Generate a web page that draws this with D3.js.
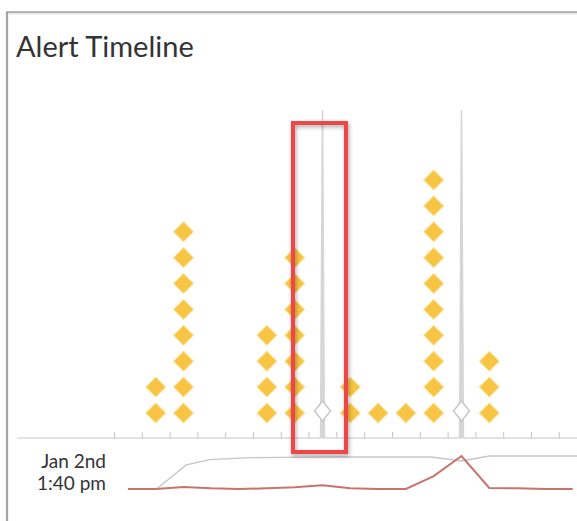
<!DOCTYPE html>
<html>
<head>
<meta charset="utf-8">
<script src="https://cdnjs.cloudflare.com/ajax/libs/d3/7.8.5/d3.min.js"></script>
<style>
  html, body { margin: 0; padding: 0; background: #fff; }
  svg { display: block; font-family: Lato, "Open Sans", sans-serif; }
</style>
</head>
<body>
<svg id="chart" width="577" height="521"></svg>
<script>
// bins are minutes after Jan 2nd 1:40 pm
var tickVals     = [0, 1, 2, 3, 4, 5, 6, 7, 8, 9, 10, 11, 12, 13, 14, 15, 16];
var binCenters   = [1.5, 2.5, 5.5, 6.5, 8.5, 9.5, 10.5, 11.5, 13.5];
var alertCounts  = [2, 8, 4, 7, 2, 1, 1, 10, 3];
var markerTimes  = [7.5, 12.5];
var rateTimes    = [0.5, 1.5, 2.5, 3.5, 4.5, 5.5, 6.5, 7.5, 8.5, 9.5, 10.5, 11.5, 12.5, 13.5, 14.5, 15.5, 16.5];
var rateValues   = [0, 0, 0.6, 0.2, 0, 0.2, 0.5, 1.1, 0.2, 0, 0, 3.9, 10, 0.3, 0.2, 0, 0];
var ctxTimes     = [1.55, 2.6, 3.45, 4.9, 7.8, 11.4, 12.5, 13.5, 16.7];
var ctxValues    = [0.15, 7.3, 8.9, 9.5, 9.7, 9.7, 8.5, 10, 10];
var labelLines   = ['Jan 2nd', '1:40 pm'];

var svg = d3.select('#chart');
var defs = svg.append('defs');
var f = defs.append('filter').attr('id', 'shadow').attr('x', '-20%').attr('y', '-5%').attr('width', '140%').attr('height', '110%');
f.append('feDropShadow').attr('dx', 1).attr('dy', 2).attr('stdDeviation', 2).attr('flood-color', '#000').attr('flood-opacity', 0.35);

var x = d3.scaleLinear().domain([0, 16]).range([114, 558.8]);
var y = d3.scaleLinear().domain([0, 9]).range([413, 180]);
var ySpark = d3.scaleLinear().domain([0, 10]).range([489, 456]);
var axisY = 438;

// frame
svg.append('rect').attr('x', 7).attr('y', 13).attr('width', 580).attr('height', 520)
  .attr('fill', 'none').attr('stroke', '#e8e8e8').attr('stroke-width', 3);
svg.append('path').attr('d', 'M7,521V12H577').attr('fill', 'none').attr('stroke', '#7a7a7a').attr('stroke-width', 1.2);

svg.append('text').attr('x', 16).attr('y', 57).attr('font-size', 29).attr('fill', '#333')
  .text('Alert Timeline');

// marker spikes
var spikes = svg.append('g').attr('class', 'markers');
markerTimes.forEach(function(t){
  var cx = x(t);
  spikes.append('path')
    .attr('d', 'M' + (cx - 0.8) + ',110L' + (cx + 0.8) + ',110L' + (cx + 2.7) + ',' + axisY + 'L' + (cx - 2.7) + ',' + axisY + 'Z')
    .attr('fill', '#d6d6d6');
  spikes.append('path')
    .attr('d', 'M' + cx + ',401L' + (cx + 8) + ',411L' + cx + ',421L' + (cx - 8) + ',411Z')
    .attr('fill', '#fff').attr('stroke', '#c8c8c8').attr('stroke-width', 1.5);
});

// axis
svg.append('line').attr('x1', 17).attr('x2', 577).attr('y1', axisY).attr('y2', axisY)
  .attr('stroke', '#d8d8d8').attr('stroke-width', 1.5);
var ax = svg.append('g').attr('transform', 'translate(0,' + axisY + ')')
  .call(d3.axisTop(x).tickValues(tickVals).tickSize(6).tickFormat(''));
ax.select('.domain').remove();
ax.selectAll('.tick line').attr('stroke', '#c4c4c4');

// alert diamonds
var pts = [];
binCenters.forEach(function(c, i){
  for (var k = 0; k < alertCounts[i]; k++) pts.push({t: c, k: k});
});
var sq = d3.symbol().type(d3.symbolSquare).size(200);
svg.append('g').selectAll('path.alert').data(pts).enter().append('path')
  .attr('class', 'alert')
  .attr('d', sq)
  .attr('transform', function(d){ return 'translate(' + x(d.t) + ',' + y(d.k) + ') rotate(45)'; })
  .attr('fill', '#f8c443').attr('stroke', '#fbe39a').attr('stroke-width', 1);

// sparkline
var line = d3.line().x(function(d){ return x(d[0]); }).y(function(d){ return ySpark(d[1]); });
svg.append('path').datum(d3.zip(ctxTimes, ctxValues)).attr('d', line)
  .attr('fill', 'none').attr('stroke', '#c6c6c6').attr('stroke-width', 1.4);
svg.append('path').datum(d3.zip(rateTimes, rateValues)).attr('d', line)
  .attr('fill', 'none').attr('stroke', '#c8736c').attr('stroke-width', 2);

svg.append('g').selectAll('text').data(labelLines).enter().append('text')
  .attr('x', 106).attr('y', function(d, i){ return 468 + i * 21.5; })
  .attr('text-anchor', 'end').attr('font-size', 19).attr('fill', '#333')
  .text(function(d){ return d; });

// highlight box
svg.append('rect').attr('x', 293).attr('y', 123).attr('width', 53).attr('height', 329)
  .attr('fill', 'none').attr('stroke', '#ef4646').attr('stroke-width', 4)
  .attr('filter', 'url(#shadow)');
</script>
</body>
</html>
